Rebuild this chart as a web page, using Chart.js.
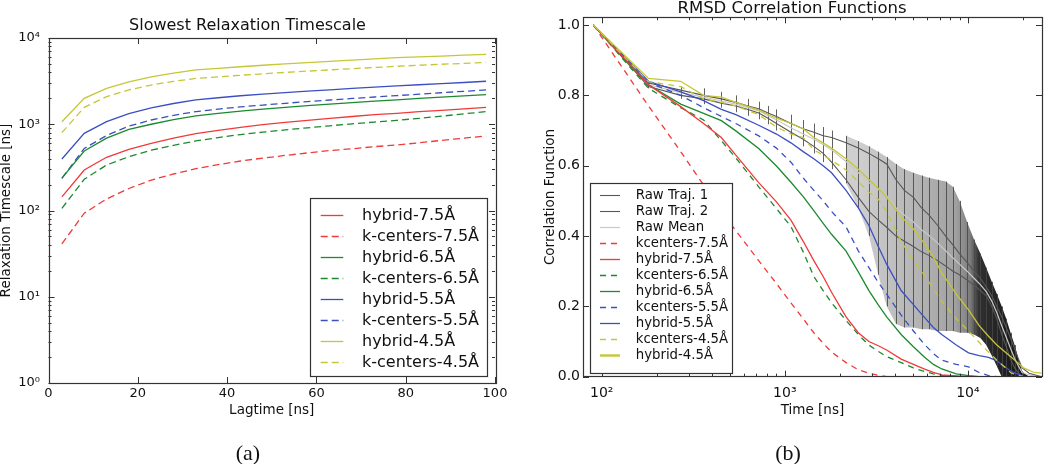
<!DOCTYPE html>
<html>
<head>
<meta charset="utf-8">
<script src="https://cdn.jsdelivr.net/npm/chart.js@4.4.1/dist/chart.umd.min.js"></script>
<style>
  html, body { margin:0; padding:0; background:#fff; }
  #wrap { position:relative; width:1050px; height:464px; overflow:hidden; }
  #chart-a { position:absolute; left:0; top:0; }
  #chart-b { position:absolute; left:520px; top:0; }
  .cap { position:absolute; top:442px; width:60px; margin-left:-30px; text-align:center;
         font-family:"Liberation Serif", serif; font-size:22px; line-height:22px; color:#111; }
</style>
</head>
<body>
<div id="wrap">
  <canvas id="chart-a" width="520" height="464"></canvas>
  <canvas id="chart-b" width="530" height="464"></canvas>
  <div class="cap" style="left:248px">(a)</div>
  <div class="cap" style="left:788px">(b)</div>
</div>
<script>
// ── DATA (a): slowest relaxation timescale ──
const LAG = [3,8,13,18,23,28,33,38,43,48,53,58,63,68,73,78,83,88,93,98];
const A_HYB75 = [144,295,414,510,600,690,780,850,920,990,1050,1110,1170,1230,1290,1340,1400,1450,1510,1570];
const A_KC75  = [41,93,136,180,225,265,305,340,375,405,435,465,495,520,550,575,610,650,690,730];
const A_HYB65 = [237,490,690,870,1000,1130,1250,1340,1420,1500,1570,1640,1710,1780,1850,1920,1990,2060,2130,2200];
const A_KC65  = [106,230,337,420,500,570,640,700,760,810,860,910,960,1010,1060,1110,1170,1240,1320,1400];
const A_HYB55 = [395,785,1070,1330,1550,1740,1920,2030,2140,2240,2330,2420,2510,2600,2690,2780,2870,2960,3050,3150];
const A_KC55  = [236,525,740,950,1120,1270,1400,1500,1590,1670,1750,1830,1910,1990,2070,2150,2230,2320,2410,2500];
const A_HYB45 = [1070,2000,2610,3100,3550,3920,4260,4450,4640,4830,5010,5190,5370,5550,5730,5910,6050,6180,6320,6450];
const A_KC45  = [800,1570,2090,2500,2850,3150,3400,3550,3700,3850,3990,4130,4270,4410,4550,4700,4830,4960,5080,5200];

const A_X_TICKS = [0,20,40,60,80,100];
const A_Y_TICKS = [1,10,100,1000,10000];
const A_Y_LABELS = ['10⁰','10¹','10²','10³','10⁴'];
const A_Y_MINOR = [2,3,4,5,6,7,8,9,20,30,40,50,60,70,80,90,200,300,400,500,600,700,800,900,2000,3000,4000,5000,6000,7000,8000,9000];

// ── DATA (b): RMSD correlation functions ──
const T_FIT = [90,180,270,360,450,540,720,900,1080,1260,1440,1620,1800,2160,2520,2880,3240,3600,4320,5040,5760,6480,7200,8640,10080,11520,12960,14400,17280,20160,23040,25200];
const B_KC75  = [1.0,0.77,0.64,0.545,0.47,0.415,0.33,0.265,0.21,0.165,0.125,0.095,0.07,0.04,0.02,0.01,0.004,0,0,0,0,0,0,0,0,0,0,0,0,0,0,0];
const B_HYB75 = [1.0,0.83,0.768,0.72,0.68,0.63,0.552,0.497,0.445,0.385,0.33,0.285,0.24,0.17,0.125,0.1,0.088,0.076,0.05,0.035,0.022,0.012,0.005,0.002,0,0,0,0,0,0,0,0];
const B_KC65  = [1.0,0.82,0.765,0.73,0.671,0.622,0.54,0.478,0.427,0.355,0.285,0.245,0.21,0.16,0.12,0.09,0.072,0.057,0.04,0.025,0.015,0.008,0.004,0.001,0,0,0,0,0,0,0,0];
const B_HYB65 = [1.0,0.83,0.775,0.749,0.728,0.699,0.649,0.599,0.553,0.512,0.472,0.436,0.405,0.357,0.298,0.245,0.204,0.17,0.12,0.085,0.057,0.035,0.022,0.008,0.003,0,0,0,0,0,0,0];
const B_KC55  = [1.0,0.837,0.80,0.765,0.74,0.72,0.685,0.65,0.61,0.565,0.53,0.50,0.47,0.426,0.358,0.31,0.268,0.235,0.175,0.13,0.093,0.066,0.047,0.035,0.028,0.012,0.003,0,0,0,0,0];
const B_HYB55 = [1.0,0.84,0.81,0.785,0.76,0.745,0.715,0.69,0.665,0.64,0.62,0.60,0.58,0.53,0.48,0.43,0.37,0.32,0.245,0.205,0.17,0.14,0.12,0.09,0.068,0.06,0.055,0.045,0.015,0,0,0];
const B_KC45  = [1.0,0.839,0.825,0.79,0.78,0.77,0.745,0.71,0.69,0.68,0.645,0.63,0.615,0.588,0.555,0.525,0.505,0.47,0.385,0.33,0.29,0.25,0.215,0.165,0.13,0.098,0.07,0.047,0.01,0,0,0];
const B_HYB45 = [1.0,0.848,0.84,0.80,0.795,0.78,0.758,0.735,0.72,0.705,0.68,0.665,0.65,0.62,0.59,0.56,0.535,0.51,0.455,0.42,0.38,0.34,0.295,0.235,0.19,0.145,0.115,0.09,0.055,0.025,0.012,0.01];

const T_RAW = [90,180,270,360,450,540,630,720,810,900,1080,1260,1440,1620,1800,2160,2520,2880,3240,3600,4050,4500,5040,5580,6120,6840,7560,8280,9000,9900,10800,11700,12600,13500,14400,15300,16200,17100,18000,18900,19800,21600,23400,25200];
const RAW1 = [1.0,0.835,0.815,0.80,0.79,0.78,0.77,0.762,0.75,0.74,0.72,0.705,0.695,0.685,0.68,0.665,0.65,0.635,0.62,0.605,0.56,0.53,0.51,0.48,0.46,0.43,0.40,0.375,0.35,0.325,0.30,0.28,0.255,0.23,0.20,0.17,0.14,0.11,0.08,0.05,0.025,0.01,0.005,0];
const RAW2 = [1.0,0.825,0.80,0.79,0.778,0.77,0.76,0.75,0.735,0.72,0.695,0.675,0.655,0.635,0.61,0.56,0.51,0.47,0.445,0.425,0.40,0.385,0.37,0.355,0.345,0.33,0.315,0.30,0.29,0.275,0.26,0.245,0.23,0.20,0.165,0.12,0.085,0.05,0.025,0.01,0,0,0,0];
const RAW_MEAN = [1.0,0.83,0.808,0.795,0.784,0.775,0.765,0.756,0.742,0.73,0.708,0.69,0.675,0.66,0.645,0.612,0.58,0.552,0.532,0.515,0.48,0.46,0.44,0.418,0.402,0.38,0.358,0.338,0.32,0.30,0.28,0.262,0.242,0.215,0.182,0.145,0.112,0.08,0.052,0.03,0.012,0.005,0.002,0];
const ERR_HI = [1.0,0.84,0.825,0.82,0.81,0.80,0.79,0.782,0.77,0.76,0.745,0.73,0.72,0.71,0.70,0.685,0.67,0.655,0.64,0.625,0.605,0.59,0.58,0.572,0.566,0.56,0.555,0.54,0.50,0.44,0.39,0.35,0.31,0.27,0.235,0.20,0.165,0.125,0.09,0.05,0.015,0,0,0];
const ERR_LO = [1.0,0.82,0.79,0.775,0.765,0.752,0.742,0.732,0.718,0.70,0.675,0.655,0.635,0.61,0.59,0.55,0.48,0.40,0.29,0.20,0.15,0.14,0.14,0.135,0.135,0.13,0.13,0.13,0.125,0.125,0.12,0.11,0.09,0.06,0.03,0,0,0,0,0,0,0,0,0];
const BAND_FROM = 2160;   // error bars merge into a solid band from here on

const B_X_TICKS = [100,1000,10000];
const B_X_LABELS = ['10²','10³','10⁴'];
const B_X_MINOR = [200,300,400,500,600,700,800,900,2000,3000,4000,5000,6000,7000,8000,9000,20000];
const B_Y_TICKS = [0,0.2,0.4,0.6,0.8,1.0];

// ── STYLE ──
Chart.defaults.font.family = "'DejaVu Sans', sans-serif";
Chart.defaults.color = '#111';
const RED = '#f03a3a', GREEN = '#1b8a2e', BLUE = '#3b4fc2', YEL = '#c6c637';
const INK = '#333';

function series(label, xs, ys, color, dash, extra) {
  return Object.assign({
    label,
    data: xs.map((x, i) => ({ x, y: ys[i] })),
    borderColor: color, backgroundColor: color,
    borderWidth: 1.3, borderDash: dash || [],
    fill: false, pointRadius: 0, tension: 0
  }, extra || {});
}

// box + inward ticks on all four sides, matplotlib style
function makeFrame(cfg) {
  return {
    id: 'frame',
    afterDatasetsDraw(chart) {
      const { ctx, chartArea: a } = chart;
      const sx = chart.scales.x, sy = chart.scales.y;
      ctx.save();
      ctx.strokeStyle = INK; ctx.lineWidth = 1;
      ctx.beginPath();
      const vt = (v, len) => {
        const p = Math.round(sx.getPixelForValue(v)) + 0.5;
        ctx.moveTo(p, a.bottom); ctx.lineTo(p, a.bottom - len);
        ctx.moveTo(p, a.top); ctx.lineTo(p, a.top + len);
      };
      const ht = (v, len) => {
        const p = Math.round(sy.getPixelForValue(v)) + 0.5;
        ctx.moveTo(a.left, p); ctx.lineTo(a.left + len, p);
        ctx.moveTo(a.right, p); ctx.lineTo(a.right - len, p);
      };
      cfg.xMajor.forEach(v => vt(v, 6));
      cfg.xMinor.forEach(v => vt(v, 3));
      cfg.yMajor.forEach(v => ht(v, 6));
      cfg.yMinor.forEach(v => ht(v, 3));
      ctx.stroke();
      ctx.lineWidth = 1.2;
      ctx.strokeRect(Math.round(a.left) + 0.5, Math.round(a.top) + 0.5,
                     Math.round(a.right - a.left), Math.round(a.bottom - a.top));
      ctx.restore();
    }
  };
}

// legend in a framed box inside the plot
function makeBoxLegend(cfg) {
  return {
    id: 'boxLegend',
    afterDraw(chart) {
      const { ctx, chartArea: a } = chart;
      const x0 = cfg.side === 'right' ? a.right - cfg.dx - cfg.w : a.left + cfg.dx;
      const y0 = a.bottom - cfg.dy - cfg.h;
      ctx.save();
      ctx.fillStyle = '#fff';
      ctx.fillRect(x0, y0, cfg.w, cfg.h);
      ctx.strokeStyle = INK; ctx.lineWidth = 1.2;
      ctx.strokeRect(Math.round(x0) + 0.5, Math.round(y0) + 0.5, cfg.w, cfg.h);
      ctx.font = cfg.font;
      ctx.textBaseline = 'middle';
      let row = 0;
      chart.data.datasets.forEach(ds => {
        if (ds.noLegend) return;
        const y = Math.round(y0 + cfg.first + row * cfg.gap) + 0.5;
        ctx.strokeStyle = ds.borderColor;
        ctx.lineWidth = ds.legendWidth || ds.borderWidth;
        ctx.setLineDash(ds.borderDash || []);
        ctx.beginPath();
        ctx.moveTo(x0 + cfg.l1, y); ctx.lineTo(x0 + cfg.l2, y);
        ctx.stroke();
        ctx.setLineDash([]);
        ctx.fillStyle = '#111';
        ctx.fillText(ds.label, x0 + cfg.tx, y);
        row++;
      });
      ctx.restore();
    }
  };
}

// ── CHART (a) ──
const DASH_A = [7, 4];
new Chart(document.getElementById('chart-a'), {
  type: 'line',
  data: {
    datasets: [
      series('hybrid-7.5Å', LAG, A_HYB75, RED),
      series('k-centers-7.5Å', LAG, A_KC75, RED, DASH_A),
      series('hybrid-6.5Å', LAG, A_HYB65, GREEN),
      series('k-centers-6.5Å', LAG, A_KC65, GREEN, DASH_A),
      series('hybrid-5.5Å', LAG, A_HYB55, BLUE),
      series('k-centers-5.5Å', LAG, A_KC55, BLUE, DASH_A),
      series('hybrid-4.5Å', LAG, A_HYB45, YEL),
      series('k-centers-4.5Å', LAG, A_KC45, YEL, DASH_A),
    ]
  },
  options: {
    responsive: false, animation: false, devicePixelRatio: 1,
    layout: { padding: { left: 0, right: 25, top: 18, bottom: 45.9 } },
    plugins: {
      legend: { display: false }, tooltip: { enabled: false },
      title: { display: true, text: 'Slowest Relaxation Timescale', color: '#111',
               font: { size: 16, weight: 'normal', lineHeight: 1 }, padding: { top: 0, bottom: 4 } }
    },
    scales: {
      x: {
        type: 'linear', min: 0, max: 100,
        afterBuildTicks: s => { s.ticks = A_X_TICKS.map(v => ({ value: v })); },
        afterFit: s => { s.height = 35.1; },
        grid: { display: false, drawTicks: false }, border: { display: false },
        ticks: { font: { size: 13 }, padding: 3, maxRotation: 0, autoSkip: false },
        title: { display: true, text: 'Lagtime [ns]', font: { size: 13.5 }, padding: { top: 0, bottom: 0 } }
      },
      y: {
        type: 'logarithmic', min: 1, max: 10000,
        afterBuildTicks: s => { s.ticks = A_Y_TICKS.map(v => ({ value: v })); },
        afterFit: s => { s.width = 48.5; },
        grid: { display: false, drawTicks: false }, border: { display: false },
        ticks: { font: { size: 13 }, padding: 8.5, autoSkip: false, callback: (v, i) => A_Y_LABELS[i] },
        title: { display: true, text: 'Relaxation Timescale [ns]', font: { size: 13.5, lineHeight: 1 }, padding: { top: 0, bottom: 0 } }
      }
    }
  },
  plugins: [
    makeFrame({ xMajor: A_X_TICKS, xMinor: [], yMajor: A_Y_TICKS, yMinor: A_Y_MINOR }),
    makeBoxLegend({ side: 'right', dx: 8, dy: 7, w: 177, h: 178, first: 17, gap: 21,
                    l1: 10.7, l2: 33.3, tx: 52, font: "16px 'DejaVu Sans'" })
  ]
});

// ── CHART (b) ──
const DASH_B = [6, 5];
const bandIdx = T_RAW.map((t, i) => i).filter(i => T_RAW[i] >= BAND_FROM);
const bandPts = arr => bandIdx.map(i => ({ x: T_RAW[i], y: arr[i] }));

function bandShade(c) {
  const chart = c.chart, xs = chart.scales && chart.scales.x;
  if (!chart.chartArea || !xs) return 'rgba(160,160,160,0.9)';
  const p0 = xs.getPixelForValue(2500), p1 = xs.getPixelForValue(17000);
  const g = chart.ctx.createLinearGradient(p0, 0, p1, 0);
  [[2500,'#cfcfcf'],[5000,'#b6b6b6'],[8500,'#a2a2a2'],[10300,'#7c7c7c'],[11500,'#303030'],[17000,'#1c1c1c']]
    .forEach(([t, col]) => g.addColorStop((xs.getPixelForValue(t) - p0) / (p1 - p0), col));
  return g;
}

const datasetsB = [
  series('Raw Traj. 1', T_RAW, RAW1, '#575757', null, { borderWidth: 1.1, order: 3 }),
  series('Raw Traj. 2', T_RAW, RAW2, '#575757', null, { borderWidth: 1.1, order: 3 }),
  series('Raw Mean', T_RAW, RAW_MEAN, '#c8c8c8', null, { borderWidth: 1.2, order: 3 }),
  series('kcenters-7.5Å', T_FIT, B_KC75, RED, DASH_B, { order: 2 }),
  series('hybrid-7.5Å', T_FIT, B_HYB75, RED, null, { order: 2 }),
  series('kcenters-6.5Å', T_FIT, B_KC65, GREEN, DASH_B, { order: 2 }),
  series('hybrid-6.5Å', T_FIT, B_HYB65, GREEN, null, { order: 2 }),
  series('kcenters-5.5Å', T_FIT, B_KC55, BLUE, DASH_B, { order: 2 }),
  series('hybrid-5.5Å', T_FIT, B_HYB55, BLUE, null, { order: 2 }),
  series('kcenters-4.5Å', T_FIT, B_KC45, YEL, DASH_B, { order: 1 }),
  series('hybrid-4.5Å', T_FIT, B_HYB45, YEL, null, { order: 1, legendWidth: 2.4 }),
  { label: 'err-hi', data: bandPts(ERR_HI), borderWidth: 0, borderColor: 'rgba(0,0,0,0)',
    backgroundColor: bandShade, fill: '+1', pointRadius: 0, tension: 0, order: 5, noLegend: true },
  { label: 'err-lo', data: bandPts(ERR_LO), borderWidth: 0, borderColor: 'rgba(0,0,0,0)',
    fill: false, pointRadius: 0, tension: 0, order: 6, noLegend: true },
];
const HI_INDEX = datasetsB.findIndex(d => d.label === 'err-hi');

// vertical error bars, drawn just after the band so the lines stay on top
const errorBars = {
  id: 'errorBars',
  afterDatasetDraw(chart, args) {
    if (args.index !== HI_INDEX) return;
    const { ctx } = chart;
    const sx = chart.scales.x, sy = chart.scales.y;
    ctx.save();
    ctx.lineWidth = 1;
    ctx.beginPath();
    T_RAW.forEach((t, i) => {
      if (ERR_HI[i] - ERR_LO[i] < 0.01) return;
      const p = Math.round(sx.getPixelForValue(t)) + 0.5;
      ctx.moveTo(p, sy.getPixelForValue(ERR_HI[i]));
      ctx.lineTo(p, sy.getPixelForValue(ERR_LO[i]));
    });
    ctx.strokeStyle = 'rgba(70,70,70,0.85)';
    ctx.stroke();
    ctx.restore();
  }
};

new Chart(document.getElementById('chart-b'), {
  type: 'line',
  data: { datasets: datasetsB },
  options: {
    responsive: false, animation: false, devicePixelRatio: 1,
    layout: { padding: { left: 22, right: 8, top: 0, bottom: 45.9 } },
    plugins: {
      legend: { display: false }, tooltip: { enabled: false },
      title: { display: true, text: 'RMSD Correlation Functions', color: '#111',
               font: { size: 16.5, weight: 'normal', lineHeight: 1 }, padding: { top: 0, bottom: 0.8 } }
    },
    scales: {
      x: {
        type: 'logarithmic', min: 79, max: 25400,
        afterBuildTicks: s => { s.ticks = B_X_TICKS.map(v => ({ value: v })); },
        afterFit: s => { s.height = 41.4; },
        grid: { display: false, drawTicks: false }, border: { display: false },
        ticks: { font: { size: 14 }, padding: 8, maxRotation: 0, autoSkip: false, callback: (v, i) => B_X_LABELS[i] },
        title: { display: true, text: 'Time [ns]', font: { size: 13.5 }, padding: { top: 0, bottom: 0 } }
      },
      y: {
        type: 'linear', min: 0, max: 1.022,
        afterBuildTicks: s => { s.ticks = B_Y_TICKS.map(v => ({ value: v })); },
        afterFit: s => { s.width = 41; },
        grid: { display: false, drawTicks: false }, border: { display: false },
        ticks: { font: { size: 14 }, padding: 3, autoSkip: false, callback: v => v.toFixed(1) },
        title: { display: true, text: 'Correlation Function', font: { size: 13.5, lineHeight: 1.2 }, padding: { top: 0, bottom: 0 } }
      }
    }
  },
  plugins: [
    errorBars,
    makeFrame({ xMajor: B_X_TICKS, xMinor: B_X_MINOR, yMajor: B_Y_TICKS, yMinor: [] }),
    makeBoxLegend({ side: 'left', dx: 7, dy: 3.7, w: 142, h: 190, first: 12, gap: 16,
                    l1: 10, l2: 30, tx: 45.7, font: "13.3px 'DejaVu Sans'" })
  ]
});
</script>
</body>
</html>
